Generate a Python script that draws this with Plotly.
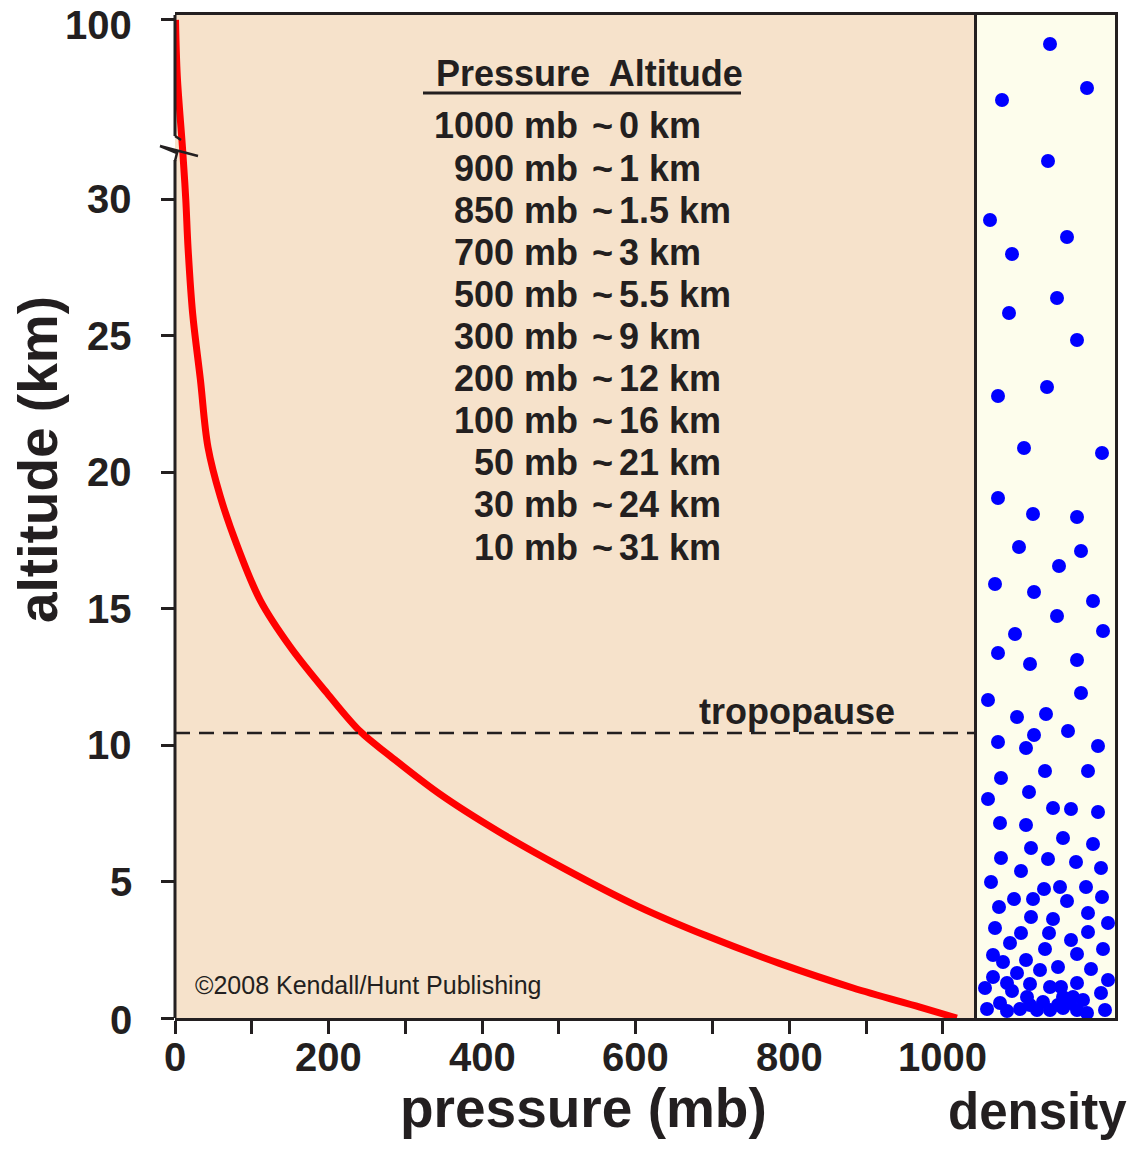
import plotly.graph_objects as go

# ---------------- data ----------------
pressure_mb = [1018, 970, 883, 787, 693, 602, 505, 420, 345, 280, 241, 198,
               150, 111, 81, 59, 43, 33, 23, 17, 14, 10, 3, 0.7]
altitude_km = [0, 0.4, 1.1, 2.0, 3.0, 4.1, 5.5, 6.85, 8.2, 9.6, 10.5, 11.9,
               13.6, 15.3, 17.3, 19.1, 20.9, 23.4, 25.8, 28.2, 30, 49, 78, 100]

y_tick_km = [0, 5, 10, 15, 20, 25, 30, 100]
y_tick_text = ["0", "5", "10", "15", "20", "25", "30", "100"]
x_tick_mb = [0, 200, 400, 600, 800, 1000]
x_minor_mb = [100, 300, 500, 700, 900]

table_pressure = ["1000 mb", "900 mb", "850 mb", "700 mb", "500 mb", "300 mb",
                  "200 mb", "100 mb", "50 mb", "30 mb", "10 mb"]
table_altitude = ["0 km", "1 km", "1.5 km", "3 km", "5.5 km", "9 km",
                  "12 km", "16 km", "21 km", "24 km", "31 km"]
tropopause_km = 10.44

# density panel dots (horizontal offset, height above ground; arbitrary units)
dens_x = [73, 110, 25, 71, 13, 90, 35, 80, 32, 100, 70, 21, 47, 125, 21, 56, 100,
          42, 104, 82, 18, 57, 116, 80, 126, 38, 21, 53, 100, 104, 11, 40, 69, 91,
          57, 21, 49, 121, 68, 111, 24, 52, 11, 76, 94, 121, 23, 49, 86, 116, 54,
          24, 71, 99, 124, 44, 14, 67, 83, 109, 37, 56, 125, 90, 22, 54, 76, 111,
          131, 18, 44, 72, 111, 33, 94, 68, 126, 16, 100, 26, 49, 81, 63, 114, 40,
          16, 131, 30, 53, 100, 8, 73, 84, 35, 124, 50, 86, 96, 106, 23, 66, 10,
          30, 43, 60, 73, 86, 100, 110, 128, 93, 81, 53]
dens_h = [974, 930, 918, 857, 798, 781, 764, 720, 705, 678, 631, 622, 570, 565,
          520, 504, 501, 471, 467, 452, 434, 426, 417, 402, 387, 384, 365, 354,
          358, 325, 318, 301, 304, 287, 283, 276, 270, 272, 247, 247, 240, 226,
          219, 210, 209, 206, 195, 193, 180, 174, 170, 160, 159, 156, 150, 147,
          136, 129, 131, 131, 119, 119, 121, 117, 111, 101, 99, 105, 95, 90, 85,
          85, 86, 75, 78, 69, 69, 63, 64, 56, 58, 51, 48, 49, 45, 41, 38, 35, 34,
          35, 30, 31, 31, 27, 25, 21, 21, 21, 18, 15, 16, 9, 7, 9, 8, 8, 10, 8,
          5, 8, 15, 13, 13]

# ---------------- geometry / style ----------------
OFF = 8                                  # default page margin of the html body
W, H = 1137 - 2 * OFF, 1149 - 2 * OFF
PW, PH = 940, 1003                       # plot area size in pixels
L, T = 175 - OFF, 15 - OFF
R, B = W - L - PW, H - T - PH
MAIN_W = 802                             # pixel width of main panel
X_MAX = 1044.3                           # pressure at right edge of main panel
Y_MAX = 36.74                            # axis units at top edge
BREAK_LOW, BREAK_TOP_UNITS = 30.0, 36.56  # 30 km ... 100 km squeezed

INK = "#231F20"
FONT = "Liberation Sans, Arial, Helvetica, sans-serif"


def ymap(a):
    if a <= BREAK_LOW:
        return a
    return BREAK_LOW + (a - BREAK_LOW) * (BREAK_TOP_UNITS - BREAK_LOW) / (100 - BREAK_LOW)


def pxx(xp):   # screen x (reference pixels) -> paper
    return (xp - 175) / PW


def pxy(yp):   # screen y (reference pixels) -> paper
    return (1018 - yp) / PH


fig = go.Figure()

fig.add_trace(go.Scatter(
    x=pressure_mb, y=[ymap(a) for a in altitude_km], mode="lines",
    line=dict(color="#FF0000", width=7, shape="spline", smoothing=1.0),
    xaxis="x", yaxis="y", hoverinfo="skip", showlegend=False))

fig.add_trace(go.Scatter(
    x=dens_x, y=dens_h, mode="markers",
    marker=dict(color="#0000FF", size=14, line=dict(width=0)),
    xaxis="x2", yaxis="y2", hoverinfo="skip", showlegend=False))

split = MAIN_W / PW
fig.update_layout(
    width=W, height=H,
    margin=dict(l=L, r=R, t=T, b=B, autoexpand=False),
    paper_bgcolor="white", plot_bgcolor="#F6E2CB",
    showlegend=False,
    font=dict(family=FONT, color=INK),
    xaxis=dict(domain=[0, split], range=[0, X_MAX], anchor="y", automargin=False,
               showgrid=False, zeroline=False,
               showline=True, linecolor=INK, linewidth=3, mirror=True,
               tickmode="array", tickvals=x_tick_mb, showticklabels=False,
               ticks="outside", ticklen=13, tickwidth=3, tickcolor=INK,
               minor=dict(tickvals=x_minor_mb, ticks="outside", ticklen=13,
                          tickwidth=3, tickcolor=INK)),
    yaxis=dict(domain=[0, 1], range=[0, Y_MAX], anchor="x", automargin=False,
               showgrid=False, zeroline=False, showline=False,
               tickmode="array", tickvals=[ymap(v) for v in y_tick_km],
               showticklabels=False,
               ticks="outside", ticklen=13, tickwidth=3, tickcolor=INK),
    xaxis2=dict(domain=[split, 1], range=[0, PW - MAIN_W], anchor="y2",
                automargin=False,
                showgrid=False, zeroline=False, showticklabels=False, ticks="",
                showline=True, linecolor=INK, linewidth=3, mirror=True),
    yaxis2=dict(domain=[0, 1], range=[0, PH], anchor="x2", automargin=False,
                showgrid=False, zeroline=False, showticklabels=False, ticks="",
                showline=True, linecolor=INK, linewidth=3, mirror=True),
)

shapes = []
# density panel background
shapes.append(dict(type="rect", xref="x2 domain", yref="y2 domain", x0=0, x1=1,
                   y0=0, y1=1, fillcolor="#FDFDEC", line=dict(width=0), layer="below"))
# left axis line with break
shapes.append(dict(type="line", xref="paper", yref="paper", x0=0, x1=0,
                   y0=1, y1=pxy(136), line=dict(color=INK, width=3)))
shapes.append(dict(type="line", xref="paper", yref="paper", x0=0, x1=0,
                   y0=pxy(160), y1=0, line=dict(color=INK, width=3)))
brk = (f"M {pxx(175)},{pxy(136)} L {pxx(181)},{pxy(140)} "
       f"M {pxx(160)},{pxy(146)} L {pxx(198)},{pxy(156)} "
       f"M {pxx(160)},{pxy(146)} L {pxx(177)},{pxy(153)} L {pxx(175)},{pxy(161)}")
shapes.append(dict(type="path", xref="paper", yref="paper", path=brk,
                   line=dict(color=INK, width=2.5)))
# tropopause
shapes.append(dict(type="line", xref="x domain", yref="y", x0=0, x1=1,
                   y0=tropopause_km, y1=tropopause_km,
                   line=dict(color=INK, width=2.5, dash="15px,9px")))
# table header underline
shapes.append(dict(type="line", xref="paper", yref="paper", x0=pxx(423), x1=pxx(741),
                   y0=pxy(93), y1=pxy(93), line=dict(color=INK, width=3)))
fig.update_layout(shapes=shapes)

ann = []
tick_font = dict(size=40, weight="bold", family=FONT, color=INK)
bold36 = dict(size=36, weight="bold", family=FONT, color=INK)
ann.append(dict(text="Pressure  Altitude", x=pxx(589), y=pxy(73), xref="paper",
                yref="paper", xanchor="center", yanchor="middle", showarrow=False,
                font=bold36))
for i, (pt, at) in enumerate(zip(table_pressure, table_altitude)):
    yy = pxy(126 + 42.1 * i)
    ann.append(dict(text=pt, x=pxx(580), y=yy, xref="paper", yref="paper",
                    xanchor="right", yanchor="middle", showarrow=False, font=bold36))
    ann.append(dict(text="~", x=pxx(602), y=yy, xref="paper", yref="paper",
                    xanchor="center", yanchor="middle", showarrow=False, font=bold36))
    ann.append(dict(text=at, x=pxx(617), y=yy, xref="paper", yref="paper",
                    xanchor="left", yanchor="middle", showarrow=False, font=bold36))
ann.append(dict(text="tropopause", x=pxx(797), y=pxy(711), xref="paper", yref="paper",
                xanchor="center", yanchor="middle", showarrow=False, font=bold36))
ann.append(dict(text="©2008 Kendall/Hunt Publishing", x=pxx(193), y=pxy(985),
                xref="paper", yref="paper", xanchor="left", yanchor="middle",
                showarrow=False, font=dict(size=25, family=FONT, color=INK)))
# x tick labels
for v in x_tick_mb:
    ann.append(dict(text=str(v), x=v, xref="x", y=pxy(1057), yref="paper",
                    xanchor="center", yanchor="middle", showarrow=False,
                    font=tick_font))
# y tick labels (the 100 label sits a little below its tick, as in the original)
for v, t in zip(y_tick_km, y_tick_text):
    ann.append(dict(text=t, x=pxx(134), xref="paper", y=ymap(v), yref="y",
                    yshift=-5 if v == 100 else (-2 if v == 0 else 0),
                    xanchor="right", yanchor="middle", showarrow=False,
                    font=tick_font))
ann.append(dict(text="pressure (mb)", x=pxx(583), y=pxy(1108), xref="paper",
                yref="paper", xanchor="center", yanchor="middle", showarrow=False,
                font=dict(size=55, weight="bold", family=FONT, color=INK)))
ann.append(dict(text="altitude (km)", x=pxx(38), y=pxy(460), xref="paper",
                yref="paper", xanchor="center", yanchor="middle", showarrow=False,
                textangle=-90, font=dict(size=55, weight="bold", family=FONT, color=INK)))
ann.append(dict(text="density", x=pxx(1037), y=pxy(1111), xref="paper",
                yref="paper", xanchor="center", yanchor="middle", showarrow=False,
                font=dict(size=51, weight="bold", family=FONT, color=INK)))
fig.update_layout(annotations=ann)

fig.write_html("out.html")
